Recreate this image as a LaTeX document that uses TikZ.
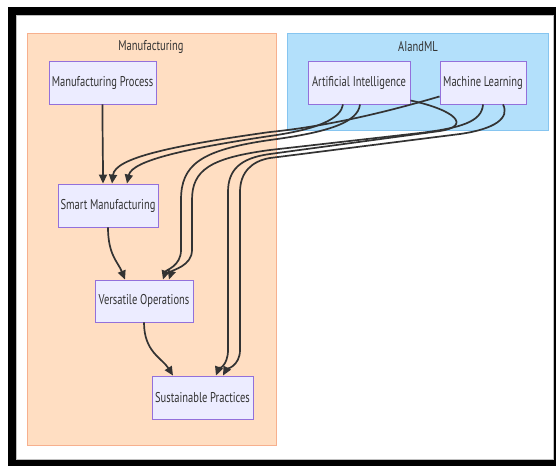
\documentclass[tikz,border=0pt]{standalone}
\usepackage{fontspec}
\setmainfont{PT Sans}[FakeStretch=0.74]
\usetikzlibrary{arrows.meta}
\definecolor{nodefill}{HTML}{ECECFF}
\definecolor{nodeline}{HTML}{9370DB}
\definecolor{mfill}{HTML}{FFDEC2}
\definecolor{mline}{HTML}{F7B08E}
\definecolor{afill}{HTML}{B3E0FB}
\definecolor{aline}{HTML}{86C5F0}
\definecolor{edgec}{HTML}{333333}
\begin{document}
\begin{tikzpicture}[x=1pt,y=-1pt,
  box/.style={draw=nodeline, fill=nodefill, line width=0.9pt, inner sep=0pt,
    minimum height=43pt, font=\fontsize{14.2}{16}\selectfont, text=edgec},
  edge/.style={draw=edgec, line width=1.7pt, -{Triangle[length=9pt,width=8pt]}},
  cl/.style={font=\fontsize{14.2}{16}\selectfont, text=edgec}]
\useasboundingbox (0,0) rectangle (556,466);
\fill[black] (8,7) rectangle (556,466);
\fill[white] (16,15) rectangle (554,460);
\draw[gray!50, line width=0.6pt] (16.3,15.3) rectangle (553.7,459.7);
% clusters
\draw[mline, fill=mfill, line width=1pt] (27,33) rectangle (276,445);
\draw[aline, fill=afill, line width=1pt] (287,33) rectangle (548,130);
\node[cl] (mt) at (151,47) {Manufacturing};
\node[cl] (at) at (418,47) {AIandML};
% nodes
\node[box, minimum width=107pt] (MP) at (102.5,82.5) {Manufacturing Process};
\node[box, minimum width=100pt] (SM) at (108,205.5) {Smart Manufacturing};
\node[box, minimum width=98pt, minimum height=42pt] (VO) at (144,301) {Versatile Operations};
\node[box, minimum width=101pt] (SP) at (202.5,397.5) {Sustainable Practices};
\node[box, minimum width=102pt] (AI) at (359,82.5) {Artificial Intelligence};
\node[box, minimum width=86pt] (ML) at (483,82.5) {Machine Learning};
% edges
\draw[edge] (MP.south) .. controls (102.5,140) and (103,160) .. ([xshift=-5pt]SM.north);
\draw[edge] (SM.south) .. controls (108,255) and (118,262) .. ([xshift=-19pt]VO.north);
\draw[edge] (VO.south) .. controls (144,352) and (162,358) .. ([xshift=-29.5pt]SP.north);
\draw[edge] ([yshift=8pt]ML.south west) .. controls (390,111) and (330,126) .. (270,132)
  .. controls (170,146) and (115,158) .. ([xshift=4pt]SM.north);
\draw[edge] ([xshift=-16pt]AI.south) .. controls (341,118) and (320,129) .. (270,136)
  .. controls (190,148) and (132,160) .. ([xshift=19pt]SM.north);
\draw[edge] ([xshift=1pt]AI.south) .. controls (358,122) and (330,132) .. (270,140)
  .. controls (200,150) and (181,165) .. (181,200) -- (181,250)
  .. controls (181,266) and (166,270) .. ([xshift=19pt]VO.north);
\draw[edge] (ML.south) .. controls (482,122) and (460,128) .. (420,133) -- (270,150)
  .. controls (210,158) and (192,170) .. (192,200) -- (192,250)
  .. controls (192,266) and (172,270) .. ([xshift=25pt]VO.north);
\draw[edge] ([yshift=4pt]AI.south east) .. controls (455,110) and (472,126) .. (440,131) -- (270,154)
  .. controls (240,158) and (228,170) .. (228,192) -- (228,350)
  .. controls (228,366) and (218,370) .. ([xshift=13.5pt]SP.north);
\draw[edge] ([xshift=20pt]ML.south) .. controls (510,118) and (495,129) .. (460,134) -- (270,158)
  .. controls (252,161) and (240,172) .. (240,192) -- (240,350)
  .. controls (240,366) and (226,370) .. ([xshift=20.5pt]SP.north);
\end{tikzpicture}
\end{document}
